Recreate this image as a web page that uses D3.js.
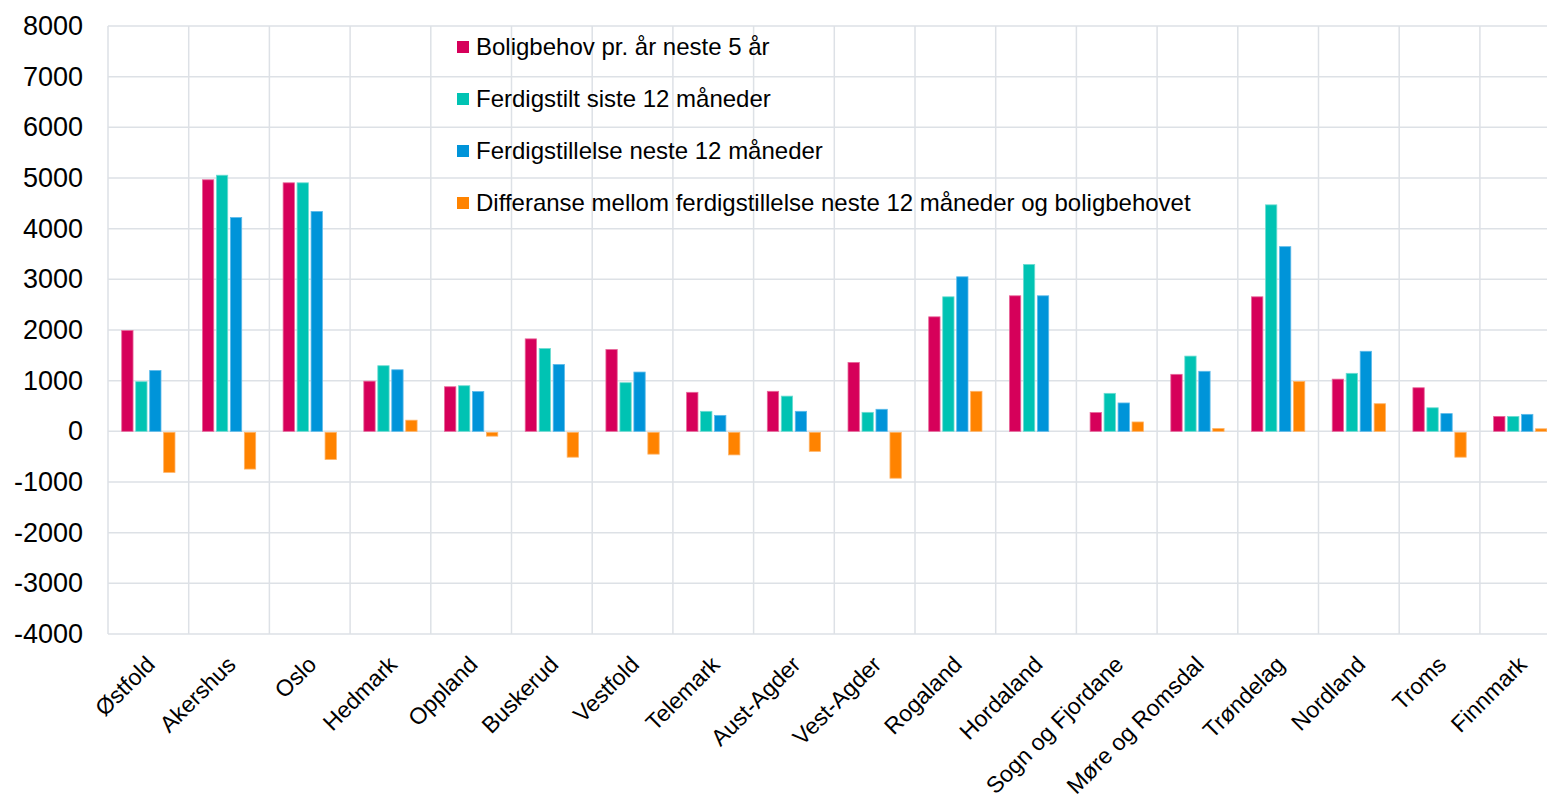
<!DOCTYPE html>
<html>
<head>
<meta charset="utf-8">
<script src="https://cdn.jsdelivr.net/npm/d3@7"></script>
<style>
  body { margin: 0; background: #fff; overflow: hidden; }
  text { font-family: "Liberation Sans", Arial, sans-serif; fill: #000; }
</style>
</head>
<body>
<script>
// fylker
var categories = ["Østfold", "Akershus", "Oslo", "Hedmark", "Oppland", "Buskerud", "Vestfold",
  "Telemark", "Aust-Agder", "Vest-Agder", "Rogaland", "Hordaland", "Sogn og Fjordane",
  "Møre og Romsdal", "Trøndelag", "Nordland", "Troms", "Finnmark"];

var seriesNames = ["Boligbehov pr. år neste 5 år", "Ferdigstilt siste 12 måneder",
  "Ferdigstillelse neste 12 måneder",
  "Differanse mellom ferdigstillelse neste 12 måneder og boligbehovet"];

var boligbehov = [1990, 4965, 4905, 990, 880, 1825, 1615, 770, 790, 1360, 2260, 2675, 370, 1125, 2655, 1030, 860, 295];
var ferdigSiste = [980, 5055, 4905, 1295, 900, 1635, 960, 395, 695, 375, 2655, 3295, 750, 1485, 4470, 1145, 465, 295];
var ferdigNeste = [1200, 4220, 4340, 1215, 785, 1320, 1170, 315, 395, 435, 3050, 2675, 560, 1185, 3645, 1580, 350, 335];
var differanse = [-810, -745, -555, 220, -95, -510, -450, -465, -395, -925, 790, 0, 185, 55, 985, 545, -510, 50];

var yTicks = [-4000, -3000, -2000, -1000, 0, 1000, 2000, 3000, 4000, 5000, 6000, 7000, 8000];

var colors = ["#d6005a", "#00c3b3", "#0094d9", "#ff8300"];
var strokes = ["#e8679a", "#6fdcd2", "#5cbaea", "#ffb366"];

var W = 1547, H = 797;
var margin = {left: 108, top: 26};
var plotW = 80.7 * categories.length, plotH = 608;
var padOuter = 0.17;

var svg = d3.select("body").append("svg").attr("width", W).attr("height", H);
var g = svg.append("g").attr("transform", "translate(" + margin.left + "," + margin.top + ")");

var x0 = d3.scaleBand().domain(categories).range([0, plotW]).paddingInner(padOuter * 2).paddingOuter(padOuter);
var x1 = d3.scaleBand().domain(d3.range(4)).range([0, x0.bandwidth()]).paddingInner(0.19);
var y = d3.scaleLinear().domain([-4000, 8000]).range([plotH, 0]);

var allSeries = [boligbehov, ferdigSiste, ferdigNeste, differanse];

// horizontal grid
g.append("g")
  .selectAll("line").data(yTicks).join("line")
  .attr("x1", 0).attr("x2", plotW)
  .attr("y1", d => y(d)).attr("y2", d => y(d))
  .attr("stroke", "#dde1e6").attr("stroke-width", 1.5);

// vertical grid (category borders)
var borders = categories.map(c => x0(c) - x0.step() * padOuter).concat([plotW]);
g.append("g")
  .selectAll("line").data(borders).join("line")
  .attr("x1", d => d).attr("x2", d => d)
  .attr("y1", 0).attr("y2", plotH)
  .attr("stroke", "#dde1e6").attr("stroke-width", 1.5);

// y axis labels
var yAxis = d3.axisLeft(y).tickValues(yTicks).tickSize(0).tickPadding(25).tickFormat(d => String(d));
g.append("g").call(yAxis)
  .call(a => a.select(".domain").remove())
  .selectAll("text")
  .style("font-size", "27px")
  .style("font-family", "'Liberation Sans', Arial, sans-serif")
  .attr("fill", "#000");

// bars
var groups = g.append("g").selectAll("g").data(categories).join("g")
  .attr("transform", d => "translate(" + x0(d) + ",0)");

groups.selectAll("rect")
  .data((c, i) => allSeries.map((s, k) => ({k: k, v: s[i]})))
  .join("rect")
  .attr("x", d => x1(d.k))
  .attr("width", x1.bandwidth())
  .attr("y", d => d.v >= 0 ? y(d.v) : y(0) + 1)
  .attr("height", d => Math.max(0, Math.abs(y(d.v) - y(0)) - (d.v < 0 ? 1 : 0)))
  .attr("fill", d => colors[d.k])
  .attr("stroke", d => strokes[d.k])
  .attr("stroke-width", 0.8);

// x labels
g.append("g").selectAll("text").data(categories).join("text")
  .attr("transform", d => "translate(" + (x0(d) + x0.bandwidth() / 2 + 8) + "," + (plotH + 32) + ") rotate(-45)")
  .attr("text-anchor", "end")
  .style("font-size", "23px")
  .text(d => d);

// legend
var legend = svg.append("g").attr("transform", "translate(457,47)");
var items = legend.selectAll("g").data(seriesNames).join("g")
  .attr("transform", (d, i) => "translate(0," + (i * 52) + ")");
items.append("rect")
  .attr("x", 0).attr("y", -6).attr("width", 12).attr("height", 12)
  .attr("fill", (d, i) => colors[i]);
items.append("text")
  .attr("x", 19).attr("y", 8)
  .style("font-size", "24px")
  .text(d => d);
</script>
</body>
</html>
